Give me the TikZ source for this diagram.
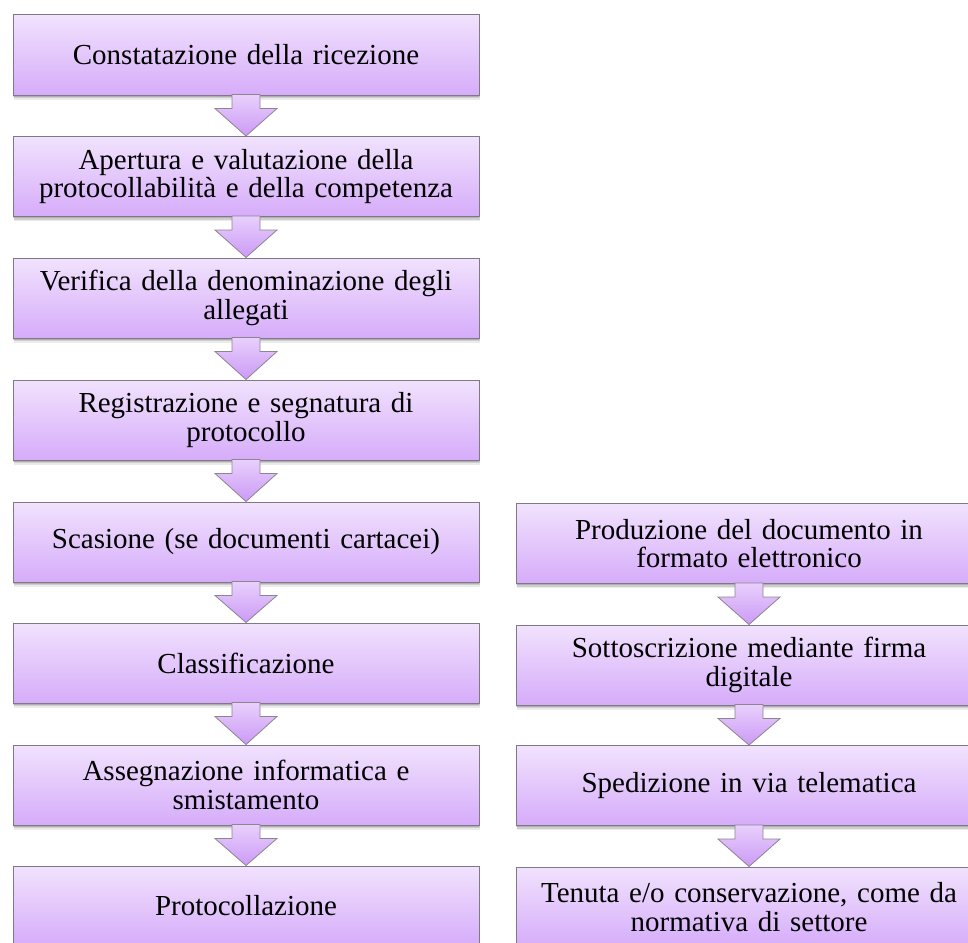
\documentclass[tikz,border=0pt]{standalone}
\usepackage{fontspec}
\setmainfont{Liberation Serif}
\usetikzlibrary{calc,shadows}
\definecolor{boxtop}{RGB}{241,226,253}
\definecolor{boxbot}{RGB}{214,172,250}
\definecolor{boxline}{RGB}{128,120,134}
\definecolor{arrtop}{RGB}{232,208,252}
\definecolor{arrbot}{RGB}{204,154,246}
\tikzset{
  stepbox/.style={rectangle, draw=boxline, line width=1pt,
    top color=boxtop, bottom color=boxbot,
    minimum width=466pt, minimum height=80pt, text width=450pt,
    align=center, inner sep=0pt,
    font=\fontsize{29}{28.5}\selectfont,
    drop shadow={shadow xshift=0.5pt, shadow yshift=-4.5pt, opacity=0.08, fill=black},
    drop shadow={shadow xshift=0.5pt, shadow yshift=-3pt, opacity=0.12, fill=black},
    drop shadow={shadow xshift=0.3pt, shadow yshift=-1.5pt, opacity=0.15, fill=black}},
  flowarrow/.style={draw=boxline!90, line width=0.8pt, line join=miter,
    top color=arrtop, bottom color=arrbot}
}
\newcommand\flowarr[2]{%
  \path[flowarrow] ($(#1.south)+(-14,1)$) -- ($(#1.south)+(14,1)$)
    -- ($(#1.south)+(14,-13)$) -- ($(#1.south)+(31,-13)$)
    -- (#2.north) -- ($(#1.south)+(-31,-13)$)
    -- ($(#1.south)+(-14,-13)$) -- cycle;}
\begin{document}
\begin{tikzpicture}[x=1pt,y=1pt]
\path[use as bounding box] (0,0) rectangle (968,-942);
\clip (0,0) rectangle (968,-942);
% left column
\node[stepbox] (L1) at (246,-55) {Constatazione della ricezione};
\node[stepbox] (L2) at (246,-176.5) {Apertura e valutazione della\\protocollabilità e della competenza};
\node[stepbox] (L3) at (246,-298) {Verifica della denominazione degli\\allegati};
\node[stepbox] (L4) at (246,-420) {Registrazione e segnatura di\\protocollo};
\node[stepbox] (L5) at (246,-542) {Scasione (se documenti cartacei)};
\node[stepbox] (L6) at (246,-663) {Classificazione};
\node[stepbox] (L7) at (246,-785) {Assegnazione informatica e\\smistamento};
\node[stepbox] (L8) at (246,-906) {Protocollazione};
% right column
\node[stepbox] (R1) at (749,-543.5) {Produzione del documento in\\formato elettronico};
\node[stepbox] (R2) at (749,-665) {Sottoscrizione mediante firma\\digitale};
\node[stepbox] (R3) at (749,-785.5) {Spedizione in via telematica};
\node[stepbox] (R4) at (749,-907) {Tenuta e/o conservazione, come da\\normativa di settore};
% arrows
\flowarr{L1}{L2}
\flowarr{L2}{L3}
\flowarr{L3}{L4}
\flowarr{L4}{L5}
\flowarr{L5}{L6}
\flowarr{L6}{L7}
\flowarr{L7}{L8}
\flowarr{R1}{R2}
\flowarr{R2}{R3}
\flowarr{R3}{R4}
\end{tikzpicture}
\end{document}
